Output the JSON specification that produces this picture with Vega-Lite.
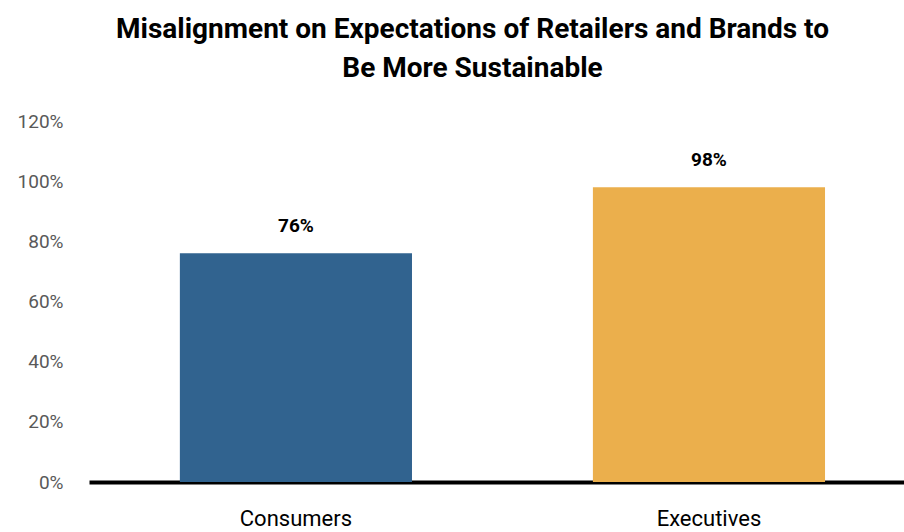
{
  "$schema": "https://vega.github.io/schema/vega-lite/v6.json",
  "autosize": "none",
  "width": 815,
  "height": 361,
  "padding": {"left": 89, "top": 121, "right": 0, "bottom": 50},
  "background": "white",
  "title": {
    "text": ["Misalignment on Expectations of Retailers and Brands to", "Be More Sustainable"],
    "font": "Roboto",
    "fontSize": 28,
    "fontWeight": "bold",
    "color": "#000000",
    "anchor": "middle",
    "frame": "group",
    "dx": -24,
    "lineHeight": 39,
    "offset": 29
  },
  "data": {
    "values": [
      {"group": "Consumers", "value": 0.76},
      {"group": "Executives", "value": 0.98}
    ]
  },
  "config": {
    "view": {"stroke": null},
    "font": "Roboto"
  },
  "encoding": {
    "x": {
      "field": "group",
      "type": "nominal",
      "sort": null,
      "scale": {"paddingInner": 0.438, "paddingOuter": 0.2056, "align": 0.535},
      "axis": {
        "title": null,
        "labelAngle": 0,
        "labelFont": "Roboto",
        "labelFontSize": 22,
        "labelColor": "#000000",
        "labelPadding": 26,
        "ticks": false,
        "domainColor": "#000000",
        "domainWidth": 4,
        "grid": false
      }
    },
    "y": {
      "field": "value",
      "type": "quantitative",
      "scale": {"domain": [0, 1.2], "nice": false},
      "axis": {
        "title": null,
        "format": ".0%",
        "values": [0, 0.2, 0.4, 0.6, 0.8, 1.0, 1.2],
        "labelFont": "Roboto",
        "labelFontSize": 19,
        "labelColor": "#595959",
        "labelPadding": 26,
        "ticks": false,
        "domain": false,
        "grid": false
      }
    }
  },
  "layer": [
    {
      "mark": {"type": "bar"},
      "encoding": {
        "color": {
          "field": "group",
          "type": "nominal",
          "scale": {"domain": ["Consumers", "Executives"], "range": ["#31638F", "#EBAF4C"]},
          "legend": null
        }
      }
    },
    {
      "mark": {"type": "text", "baseline": "bottom", "dy": -17, "fontSize": 19, "fontWeight": "bold", "color": "#000000", "font": "Roboto"},
      "encoding": {
        "text": {"field": "value", "type": "quantitative", "format": ".0%"}
      }
    }
  ]
}
